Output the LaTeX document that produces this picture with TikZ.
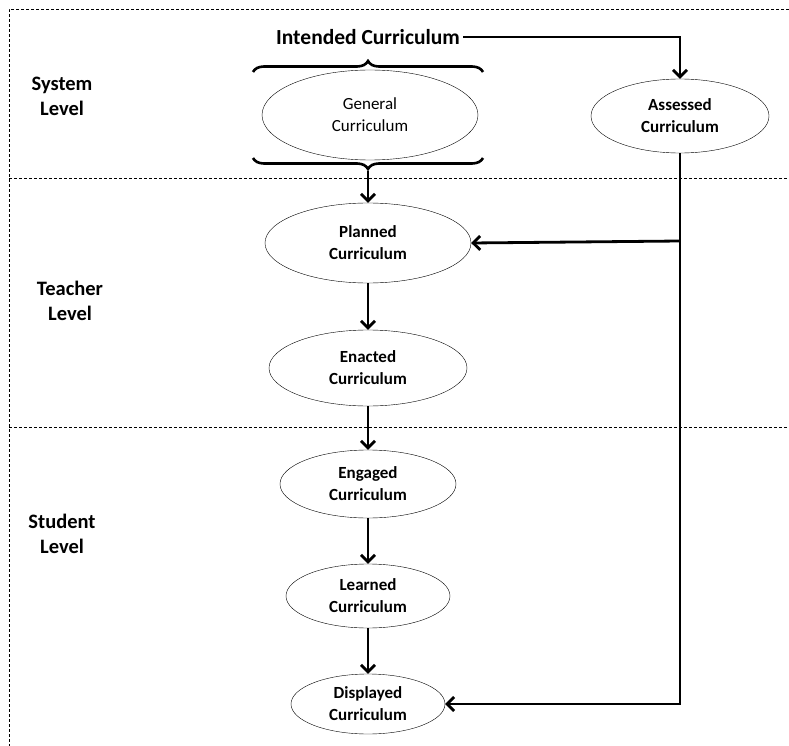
\documentclass[tikz,border=0pt]{standalone}
\usepackage{fontspec}
\setmainfont{Carlito}
\usetikzlibrary{arrows.meta,shapes.geometric,decorations.pathreplacing}

\begin{document}
\begin{tikzpicture}[
  x=1pt, y=-1pt,
  cur/.style={draw,ellipse,thin,font=\bfseries\fontsize{17}{22}\selectfont,align=center,inner sep=0pt},
  lvl/.style={font=\bfseries\fontsize{20.5}{25}\selectfont,align=center},
  arrow/.style={-{Straight Barb[length=7pt,width=14pt]},line width=2.8pt},
  link/.style={line width=2.8pt},
  divider/.style={dash pattern=on 3pt off 2pt,line width=0.6pt},
  curly/.style={decorate,decoration={brace,amplitude=11pt},line width=2.6pt}
]
  \useasboundingbox (0,0) rectangle (789,746);
  % level dividers
  \draw[divider] (789,9) -- (9,9) -- (9,746);
  \draw[divider] (9,178) -- (789,178);
  \draw[divider] (9,427) -- (789,427);
  \node[lvl] (system) at (62,96) {System\\Level};
  \node[lvl] (teacher) at (70,301) {Teacher\\Level};
  \node[lvl] (student) at (62,534) {Student\\Level};

  % curricula
  \node[font=\bfseries\fontsize{21.5}{24}\selectfont] (intended) at (368,37) {Intended Curriculum};
  \node[cur,font=\fontsize{17}{22}\selectfont,minimum width=216pt,minimum height=90pt] (general) at (370,115) {General\\Curriculum};
  \node[cur,minimum width=178pt,minimum height=74pt] (assessed) at (680,116) {Assessed\\Curriculum};
  \node[cur,minimum width=206pt,minimum height=80pt] (planned) at (368,243) {Planned\\Curriculum};
  \node[cur,minimum width=198pt,minimum height=76pt] (enacted) at (368,368) {Enacted\\Curriculum};
  \node[cur,minimum width=176pt,minimum height=68pt] (engaged) at (368,484) {Engaged\\Curriculum};
  \node[cur,minimum width=164pt,minimum height=64pt] (learned) at (368,596) {Learned\\Curriculum};
  \node[cur,minimum width=154pt,minimum height=60pt] (displayed) at (368,704) {Displayed\\Curriculum};

  % braces round the general curriculum
  \draw[curly] (253,72) -- (483,72);
  \draw[curly] (483,158) -- (253,158);
  \coordinate (gbot) at (368,171);
  \coordinate (split) at (680,241);

  \draw[arrow] (intended.east) -| (assessed.north);
  \draw[arrow] (gbot) -- (planned);
  \draw[arrow] (planned) -- (enacted);
  \draw[arrow] (enacted) -- (engaged);
  \draw[arrow] (engaged) -- (learned);
  \draw[arrow] (learned) -- (displayed);
  \draw[link] (assessed.south) -- (split);
  \draw[arrow] (split) -- (planned.east);
  \draw[arrow] (split) |- (displayed.east);
\end{tikzpicture}
\end{document}
